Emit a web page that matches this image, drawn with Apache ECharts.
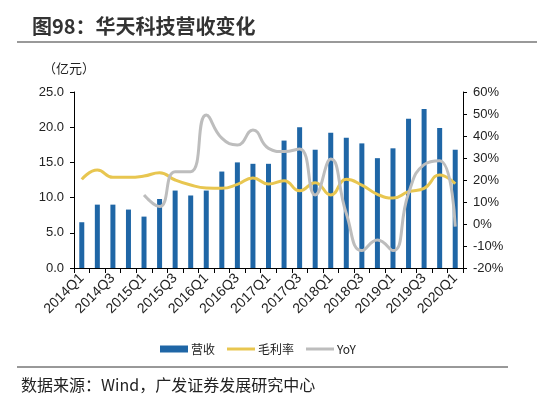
<!DOCTYPE html>
<html>
<head>
<meta charset="utf-8">
<script src="https://cdn.jsdelivr.net/npm/echarts@6/dist/echarts.min.js"></script>
<style>html,body{margin:0;padding:0;background:#fff;}#c{width:552px;height:398px;}</style>
</head>
<body>
<div id="c"></div>
<script>
const categories = ['2014Q1','2014Q2','2014Q3','2014Q4','2015Q1','2015Q2','2015Q3','2015Q4','2016Q1','2016Q2','2016Q3','2016Q4','2017Q1','2017Q2','2017Q3','2017Q4','2018Q1','2018Q2','2018Q3','2018Q4','2019Q1','2019Q2','2019Q3','2019Q4','2020Q1'];
const revenue = [6.5, 9.0, 9.0, 8.3, 7.3, 9.8, 11.0, 10.3, 11.0, 13.7, 15.0, 14.8, 14.8, 18.1, 20.0, 16.8, 19.2, 18.5, 17.7, 15.6, 17.0, 21.2, 22.6, 19.9, 16.8];
const grossMargin = [20.3, 24.5, 21.2, 21.2, 21.8, 23.3, 20.0, 17.7, 16.4, 16.2, 18.0, 20.9, 18.2, 19.7, 15.1, 18.8, 13.2, 20.3, 17.7, 13.5, 11.8, 14.7, 16.2, 22.3, 18.3];
const yoy = [null, null, null, null, 13.2, 7.9, 23.8, 23.8, 49.5, 39.0, 35.9, 42.7, 34.4, 32.9, 34.1, 13.2, 29.5, 4.8, -12.1, -7.3, -12.1, 14.0, 27.0, 28.8, -1.2];
const leftTicks = [0, 5, 10, 15, 20, 25];
const rightTicks = [-20, -10, 0, 10, 20, 30, 40, 50, 60];
const seriesNames = ['营收', '毛利率', 'YoY'];

const chart = echarts.init(document.getElementById('c'), null, {renderer: 'canvas'});
const axisFont = {fontFamily: 'Liberation Sans, Arial, sans-serif', fontSize: 13, color: '#222'};
const lineIcon = 'path://M0,0 L28,0 L28,3 L0,3 Z';
chart.setOption({
  animation: false,
  backgroundColor: '#fff',
  title: [
    {text: '图98：华天科技营收变化', left: 27, top: 11,
     textStyle: {fontFamily: 'Noto Sans CJK SC', fontWeight: 'bold', fontSize: 20, color: '#333'}},
    {text: '（亿元）', left: 38, top: 57,
     textStyle: {fontFamily: 'Noto Sans CJK SC', fontWeight: 'normal', fontSize: 13, color: '#222'}},
    {text: '数据来源：Wind，广发证券发展研究中心', left: 16, top: 372,
     textStyle: {fontFamily: 'Noto Sans CJK SC', fontWeight: 'normal', fontSize: 16, color: '#222'}}
  ],
  graphic: [
    {type: 'line', shape: {x1: 17, y1: 42, x2: 537, y2: 42}, style: {stroke: '#777', lineWidth: 1.5}},
    {type: 'line', shape: {x1: 17, y1: 367, x2: 508, y2: 367}, style: {stroke: '#333', lineWidth: 1}}
  ],
  grid: {left: 74, right: 89, top: 92, bottom: 130, containLabel: false},
  legend: {
    left: 155, top: 338, itemGap: 12, itemWidth: 28, itemHeight: 7,
    textStyle: {fontFamily: 'Noto Sans CJK SC, Liberation Sans', fontSize: 12, color: '#222', padding: [0, 0, 0, -2]},
    data: [
      {name: seriesNames[0], icon: 'rect'},
      {name: seriesNames[1], icon: lineIcon},
      {name: seriesNames[2], icon: lineIcon}
    ]
  },
  xAxis: {
    type: 'category', data: categories, boundaryGap: true,
    axisLine: {lineStyle: {color: '#000', width: 1}},
    axisTick: {show: true, interval: 0, length: 5, lineStyle: {color: '#000'}},
    axisLabel: Object.assign({}, axisFont, {interval: 1, rotate: 45, margin: 8, fontSize: 14})
  },
  yAxis: [
    {type: 'value', min: leftTicks[0], max: leftTicks[leftTicks.length - 1], interval: 5,
     splitLine: {show: false},
     axisLine: {show: true, lineStyle: {color: '#000'}},
     axisTick: {show: true, length: 4, lineStyle: {color: '#000'}},
     axisLabel: Object.assign({formatter: v => v.toFixed(1), margin: 10}, axisFont)},
    {type: 'value', min: rightTicks[0], max: rightTicks[rightTicks.length - 1], interval: 10,
     splitLine: {show: false},
     axisLine: {show: true, lineStyle: {color: '#000'}},
     axisTick: {show: true, length: 4, lineStyle: {color: '#000'}},
     axisLabel: Object.assign({formatter: v => v + '%', margin: 10}, axisFont)}
  ],
  series: [
    {name: seriesNames[0], type: 'bar', data: revenue, yAxisIndex: 0, barWidth: 5,
     itemStyle: {color: '#1f66a6'}},
    {name: seriesNames[1], type: 'line', data: grossMargin, yAxisIndex: 1, smooth: true,
     symbol: 'none', lineStyle: {color: '#e8c650', width: 3}, itemStyle: {color: '#e8c650'}},
    {name: seriesNames[2], type: 'line', data: yoy, yAxisIndex: 1, smooth: true,
     symbol: 'none', lineStyle: {color: '#bdbdbd', width: 3}, itemStyle: {color: '#bdbdbd'}}
  ]
});
</script>
</body>
</html>
